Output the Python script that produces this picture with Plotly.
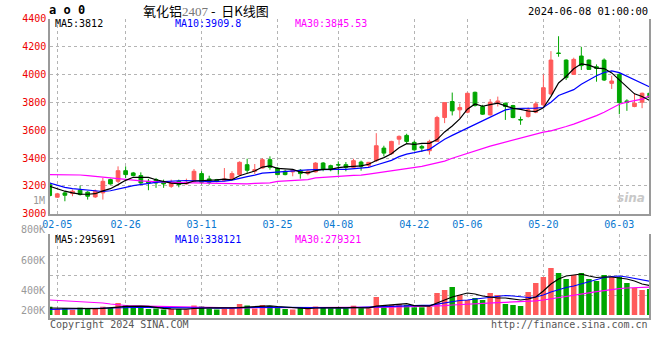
import plotly.graph_objects as go

# ---------------- data ----------------
dates = ["02-02", "02-05", "02-06", "02-07", "02-08", "02-19", "02-20", "02-21", "02-22", "02-23",
         "02-26", "02-27", "02-28", "02-29", "03-01", "03-04", "03-05", "03-06", "03-07", "03-08",
         "03-11", "03-12", "03-13", "03-14", "03-15", "03-18", "03-19", "03-20", "03-21", "03-22",
         "03-25", "03-26", "03-27", "03-28", "03-29", "04-01", "04-02", "04-03", "04-08", "04-09",
         "04-10", "04-11", "04-12", "04-15", "04-16", "04-17", "04-18", "04-19", "04-22", "04-23",
         "04-24", "04-25", "04-26", "04-29", "04-30", "05-06", "05-07", "05-08", "05-09", "05-10",
         "05-13", "05-14", "05-15", "05-16", "05-17", "05-20", "05-21", "05-22", "05-23", "05-24",
         "05-27", "05-28", "05-29", "05-30", "05-31", "06-03", "06-04", "06-05", "06-06", "06-07"]

opens = [3209, 3119, 3150, 3145, 3169, 3155, 3121, 3150, 3245, 3233,
         3309, 3293, 3274, 3233, 3245, 3226, 3197, 3233, 3214, 3233,
         3288, 3250, 3245, 3238, 3250, 3281, 3352, 3305, 3328, 3388,
         3328, 3305, 3300, 3312, 3288, 3300, 3364, 3345, 3352, 3352,
         3333, 3371, 3347, 3381, 3471, 3431, 3535, 3562, 3512, 3483,
         3452, 3519, 3690, 3805, 3745, 3728, 3871, 3769, 3709, 3793,
         3793, 3776, 3676, 3697, 3728, 3781, 3859, 4152, 4102, 3999,
         4131, 4102, 4054, 4102, 3935, 4000, 3809, 3769, 3800, 3864]
highs = [3226, 3150, 3162, 3174, 3202, 3162, 3174, 3257, 3252, 3340,
         3340, 3300, 3297, 3250, 3257, 3245, 3245, 3245, 3252, 3321,
         3305, 3273, 3250, 3328, 3305, 3376, 3395, 3357, 3400, 3412,
         3333, 3316, 3316, 3321, 3316, 3369, 3371, 3352, 3376, 3371,
         3395, 3381, 3371, 3578, 3488, 3523, 3562, 3574, 3524, 3495,
         3531, 3702, 3797, 3869, 3790, 3869, 3876, 3781, 3823, 3840,
         3797, 3781, 3697, 3762, 3804, 4000, 4166, 4273, 4107, 4119,
         4197, 4107, 4071, 4114, 3990, 4007, 3821, 3864, 3869, 3916]
lows = [3121, 3114, 3090, 3126, 3131, 3102, 3114, 3102, 3209, 3221,
        3257, 3269, 3209, 3169, 3186, 3186, 3186, 3190, 3209, 3226,
        3209, 3209, 3226, 3233, 3245, 3276, 3293, 3285, 3324, 3316,
        3281, 3276, 3269, 3252, 3276, 3297, 3305, 3305, 3281, 3305,
        3328, 3309, 3328, 3371, 3412, 3424, 3495, 3507, 3452, 3443,
        3424, 3519, 3650, 3705, 3685, 3721, 3769, 3709, 3704, 3769,
        3673, 3685, 3638, 3690, 3721, 3769, 3852, 4126, 3959, 3995,
        4031, 4031, 3947, 3952, 3895, 3714, 3738, 3764, 3757, 3816]
closes = [3131, 3143, 3133, 3162, 3138, 3126, 3162, 3233, 3214, 3309,
          3281, 3274, 3221, 3221, 3221, 3214, 3221, 3209, 3226, 3305,
          3226, 3226, 3231, 3250, 3288, 3369, 3312, 3317, 3388, 3333,
          3281, 3281, 3312, 3288, 3305, 3364, 3321, 3316, 3350, 3333,
          3381, 3340, 3369, 3488, 3435, 3519, 3555, 3519, 3459, 3471,
          3519, 3690, 3797, 3738, 3762, 3864, 3776, 3714, 3800, 3809,
          3769, 3690, 3673, 3745, 3788, 3904, 4102, 4150, 3976, 4107,
          4062, 4035, 4042, 3959, 3952, 3797, 3800, 3793, 3864, 3833]

ma5 = [3197, 3178, 3162, 3150, 3141, 3140, 3144, 3164, 3180, 3209,
       3240, 3262, 3260, 3261, 3244, 3230, 3220, 3217, 3218, 3235,
       3237, 3238, 3243, 3248, 3244, 3273, 3290, 3307, 3335, 3344,
       3326, 3320, 3319, 3299, 3293, 3310, 3318, 3319, 3331, 3337,
       3340, 3344, 3355, 3382, 3403, 3430, 3473, 3503, 3497, 3505,
       3505, 3532, 3587, 3630, 3680, 3750, 3787, 3771, 3783, 3793,
       3774, 3756, 3748, 3737, 3733, 3760, 3842, 3938, 3984, 4040,
       4075, 4066, 4044, 4041, 4010, 3957, 3910, 3860, 3841, 3812]
ma10 = [3221, 3205, 3190, 3180, 3174, 3168, 3162, 3160, 3165, 3175,
        3190, 3202, 3211, 3218, 3225, 3231, 3236, 3237, 3238, 3238,
        3234, 3230, 3231, 3234, 3242, 3256, 3266, 3277, 3291, 3295,
        3299, 3303, 3310, 3313, 3315, 3316, 3318, 3319, 3318, 3318,
        3323, 3327, 3333, 3350, 3367, 3383, 3410, 3428, 3438, 3450,
        3462, 3498, 3535, 3562, 3588, 3620, 3645, 3668, 3695, 3722,
        3745, 3755, 3755, 3756, 3758, 3762, 3800, 3848, 3868, 3890,
        3928, 3960, 3990, 4013, 4024, 4012, 3985, 3958, 3935, 3910]
ma30 = [3281, 3281, 3281, 3281, 3278, 3274, 3268, 3262, 3257, 3250,
        3245, 3240, 3236, 3233, 3230, 3228, 3225, 3223, 3222, 3221,
        3220, 3218, 3216, 3215, 3214, 3214, 3215, 3218, 3221, 3222,
        3233, 3235, 3238, 3242, 3245, 3257, 3262, 3267, 3269, 3272,
        3276, 3277, 3285, 3293, 3300, 3305, 3316, 3324, 3333, 3340,
        3352, 3364, 3378, 3398, 3416, 3434, 3452, 3468, 3485, 3500,
        3515, 3530, 3545, 3558, 3572, 3585, 3595, 3609, 3626, 3643,
        3662, 3681, 3704, 3728, 3757, 3785, 3800, 3809, 3822, 3845]

volumes = [83, 60, 70, 53, 73, 60, 60, 83, 70, 120,
           100, 80, 70, 60, 65, 55, 60, 60, 55, 95,
           85, 65, 55, 60, 75, 110, 95, 65, 100, 90,
           75, 60, 55, 70, 60, 85, 75, 67, 67, 67,
           93, 67, 67, 180, 77, 100, 110, 100, 77, 77,
           83, 220, 250, 280, 200, 150, 170, 150, 220, 200,
           110, 100, 90, 230, 320, 380, 470, 420, 360, 400,
           420, 360, 340, 400, 380, 380, 320, 270, 250, 260]
vol_ma5 = [70, 68, 67, 68, 68, 63, 63, 66, 69, 79,
           87, 91, 89, 86, 75, 66, 62, 60, 59, 65,
           71, 72, 72, 72, 68, 73, 79, 81, 89, 92,
           85, 78, 76, 70, 64, 70, 73, 72, 74, 72,
           76, 72, 72, 89, 95, 98, 107, 114, 93, 93,
           89, 120, 150, 180, 200, 220, 210, 190, 180, 170,
           170, 160, 150, 160, 180, 240, 310, 360, 390, 400,
           410, 390, 375, 380, 380, 370, 360, 340, 310, 296]
vol_ma10 = [57, 58, 59, 60, 62, 63, 65, 66, 67, 70,
            72, 75, 77, 77, 77, 76, 76, 75, 73, 72,
            72, 70, 68, 67, 68, 73, 75, 76, 80, 81,
            79, 77, 77, 79, 78, 76, 74, 73, 72, 71,
            72, 72, 73, 81, 83, 87, 89, 93, 95, 96,
            97, 110, 120, 135, 145, 150, 160, 165, 180, 190,
            195, 190, 180, 175, 180, 200, 230, 255, 275, 290,
            310, 335, 355, 375, 385, 390, 380, 365, 350, 338]
vol_ma30 = [150, 146, 142, 138, 134, 130, 126, 120, 110, 100,
            95, 92, 90, 88, 86, 84, 82, 80, 78, 77,
            76, 75, 74, 73, 72, 72, 72, 72, 73, 73,
            73, 72, 72, 72, 72, 73, 73, 73, 73, 73,
            74, 74, 74, 77, 78, 79, 80, 82, 83, 83,
            84, 88, 94, 100, 105, 108, 112, 115, 120, 124,
            127, 129, 131, 135, 141, 150, 163, 175, 186, 198,
            211, 222, 233, 245, 255, 264, 270, 274, 277, 279]

tick_dates = ["02-05", "02-26", "03-11", "03-25", "04-08", "04-22", "05-06", "05-20", "06-03"]
price_ticks = [3000, 3200, 3400, 3600, 3800, 4000, 4200, 4400]
vol_ticks = [200, 400, 600, 800]
vol_tick_text = ["200K", "400K", "600K", "800K"]

# ---------------- styling ----------------
W, H = 660, 360
RED = "#ff5a5a"
GREEN = "#00a600"
MONO = "DejaVu Sans Mono"
CJK = "Noto Sans CJK SC"
GRID = "#b4b4b4"
AXIS = "#9a9a9a"


def px(x):
    return x / W


def py(y):
    return 1 - y / H


vol_colors = [RED if c >= o else GREEN for o, c in zip(opens, closes)]
vols = [v * 1000 for v in volumes]

fig = go.Figure()
fig.add_trace(go.Candlestick(
    x=dates, open=opens, high=highs, low=lows, close=closes,
    increasing=dict(line=dict(color=RED, width=1), fillcolor=RED),
    decreasing=dict(line=dict(color=GREEN, width=1), fillcolor=GREEN),
    whiskerwidth=0, xaxis="x", yaxis="y", showlegend=False, hoverinfo="skip"))
for vals, col in [(ma30, "#ff00ff"), (ma10, "#0000ff"), (ma5, "#000000")]:
    fig.add_trace(go.Scatter(x=dates, y=vals, mode="lines", line=dict(color=col, width=1.2),
                             xaxis="x", yaxis="y", showlegend=False, hoverinfo="skip"))

fig.add_trace(go.Bar(x=dates, y=vols, marker=dict(color=vol_colors, line=dict(width=0)),
                     width=0.72, xaxis="x2", yaxis="y2", showlegend=False, hoverinfo="skip"))
for vals, col in [(vol_ma30, "#ff00ff"), (vol_ma10, "#0000ff"), (vol_ma5, "#000000")]:
    fig.add_trace(go.Scatter(x=dates, y=[v * 1000 for v in vals], mode="lines",
                             line=dict(color=col, width=1.2), xaxis="x2", yaxis="y2",
                             showlegend=False, hoverinfo="skip"))

xdom = [px(50), px(649)]
xrange = [0.04, 78.91]
common_x = dict(type="category", categoryorder="array", categoryarray=dates,
                range=xrange, tickvals=tick_dates, showgrid=True, gridcolor=GRID,
                griddash="dot", gridwidth=1, showline=True, linecolor=AXIS, linewidth=1.5,
                ticks="", zeroline=False, fixedrange=True, automargin=False)

fig.update_layout(
    template="none",
    width=W, height=H, autosize=False,
    margin=dict(l=0, r=0, t=0, b=0, pad=0, autoexpand=False),
    paper_bgcolor="white", plot_bgcolor="white",
    font=dict(family=MONO, size=10, color="#000"),
    showlegend=False,
    xaxis=dict(domain=xdom, anchor="y", ticktext=tick_dates,
               tickfont=dict(family=MONO, size=10, color="#0a78d0"),
               rangeslider=dict(visible=False), **common_x),
    yaxis=dict(domain=[py(213.8), py(18.5)], range=[3000, 4400], tickvals=price_ticks,
               tickfont=dict(family=MONO, size=10, color="#ee0000"), automargin=False,
               showgrid=True, gridcolor=GRID, griddash="dot", showline=True, mirror=True,
               linecolor=AXIS, linewidth=1.5, ticks="", zeroline=False, fixedrange=True),
    xaxis2=dict(domain=xdom, anchor="y2", matches="x", showticklabels=False, **common_x),
    yaxis2=dict(domain=[py(318), py(234)], range=[-30000, 810000],
                tickvals=[v * 1000 for v in vol_ticks], showticklabels=False, automargin=False,
                showgrid=True, gridcolor=GRID, griddash="dot", showline=True, mirror=True,
                linecolor=AXIS, linewidth=1.5, ticks="", zeroline=False, fixedrange=True),
    bargap=0.28,
)

ann = []


def text(x, y, s, color="#000", size=10, anchor="left", family=MONO):
    ann.append(dict(x=px(x), y=py(y), xref="paper", yref="paper", text=s, showarrow=False,
                    xanchor=anchor, yanchor="middle", borderpad=0,
                    font=dict(family=family, size=size, color=color)))


text(48, 10, "<b>a o 0</b>", size=12)
text(206, 10, "氧化铝<span style='font-family:Liberation Serif;color:#777'>2407</span>"
              "&nbsp;-&nbsp;&nbsp;日K线图", size=13, anchor="center", family=CJK)
text(649, 10.5, "2024-06-08 01:00:00", size=10.5, anchor="right")
text(54, 23, "MA5:%d" % ma5[-1], size=10)
text(174, 23, "MA10:3909.8", color="#0000ff", size=10)
text(294, 23, "MA30:3845.53", color="#ff00ff", size=10)
text(46, 200, "1M", color="#999", size=10, anchor="right")
text(54, 239, "MA5:295691", size=10)
text(174, 239, "MA10:338121", color="#0000ff", size=10)
text(294, 239, "MA30:279321", color="#ff00ff", size=10)
for lab, yy in zip(vol_tick_text, [310, 290, 260, 230]):
    text(46, yy, lab, color="#999", size=10, anchor="right")
text(49, 324, "Copyright 2024 SINA.COM", color="#555", size=10)
text(649, 324, "http://finance.sina.com.cn", color="#555", size=10, anchor="right")
text(646, 198, "<b><i>sina</i></b>", color="#c8c8c8", size=12, anchor="right", family="DejaVu Sans")
fig.update_layout(annotations=ann)

fig.write_html("out.html", config={"displayModeBar": False},
               post_script="document.body.style.margin='0px';"
                           "document.body.style.overflow='hidden';")
